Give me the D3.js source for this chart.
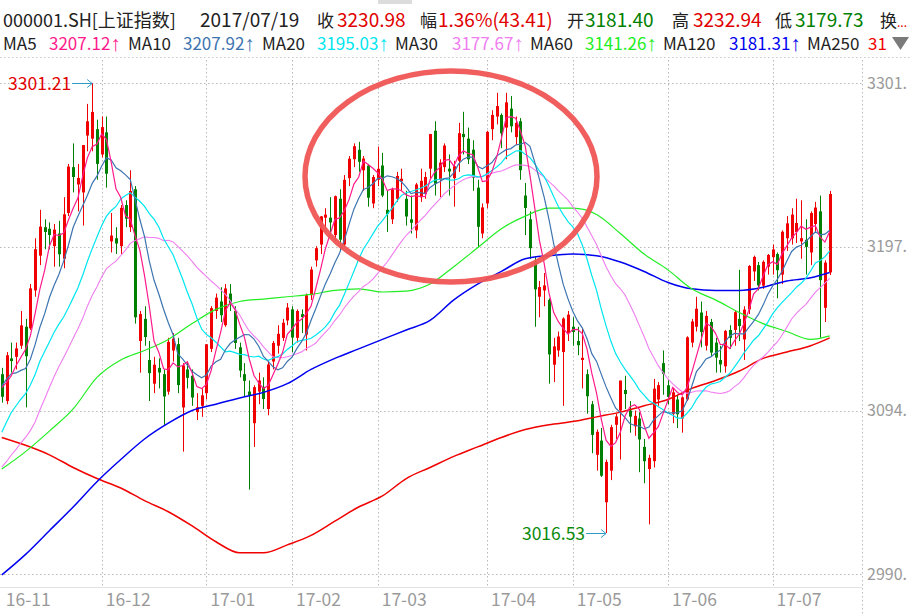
<!DOCTYPE html>
<html><head><meta charset="utf-8">
<script src="https://cdn.jsdelivr.net/npm/d3@7"></script>
<style>
html,body{margin:0;padding:0;background:#fff;}
svg{display:block;}
text{font-family:"Microsoft YaHei","Noto Sans CJK SC","Noto Sans",sans-serif;}
</style></head><body>
<svg id="chart" width="910" height="615"></svg>
<script>
// ---------------- DATA ----------------
const monthDays = {
  "2016-11":[2,3,4,7,8,9,10,11,14,15,16,17,18,21,22,23,24,25,28,29,30],
  "2016-12":[1,2,5,6,7,8,9,12,13,14,15,16,19,20,21,22,23,26,27,28,29,30],
  "2017-01":[3,4,5,6,9,10,11,12,13,16,17,18,19,20,23,24,25,26],
  "2017-02":[3,6,7,8,9,10,13,14,15,16,17,20,21,22,23,24,27,28],
  "2017-03":[1,2,3,6,7,8,9,10,13,14,15,16,17,20,21,22,23,24,27,28,29,30,31],
  "2017-04":[5,6,7,10,11,12,13,14,17,18,19,20,21,24,25,26,27,28],
  "2017-05":[2,3,4,5,8,9,10,11,12,15,16,17,18,19,22,23,24,25,26,31],
  "2017-06":[1,2,5,6,7,8,9,12,13,14,15,16,19,20,21,22,23,26,27,28,29,30],
  "2017-07":[3,4,5,6,7,10,11,12,13,14,17,18,19]
};
const dates = Object.entries(monthDays).flatMap(([m, ds]) => ds.map(d => m + "-" + String(d).padStart(2, "0")));

const opens = [3117,3100,3127,3128,3135,3147,3146,3170,3192,3210,3209,3198,3206,3190,3219,3248,3237,3232,3268,3266,3272,
3256,3270,3201,3203,3198,3224,3210,3234,3138,3152,3126,3111,3121,3117,3106,3132,3136,3096,3120,3116,3093,3097,
3105,3133,3157,3163,3148,3168,3157,3134,3117,3106,3086,3106,3109,3095,3125,3135,3140,3151,
3158,3140,3155,3142,3167,3189,3199,3216,3216,3205,3228,3199,3241,3253,3259,3246,3249,3225,
3240,3249,3221,3215,3228,3239,3228,3215,3208,3229,3231,3247,3271,3240,3248,3247,3241,3252,3269,3266,3259,3235,3206,
3225,3272,3280,3281,3273,3285,3267,3277,3230,3215,3188,3166,3170,3164,3123,3132,3131,3143,
3147,3138,3126,3117,3098,3066,3075,3036,3056,3085,3094,3107,3094,3084,3089,3071,3057,3062,3101,3124,
3110,3092,3101,3089,3101,3137,3147,3156,3135,3150,3137,3126,3122,3145,3145,3152,3139,3158,3182,3186,3173,3185,
3191,3193,3180,3203,3203,3207,3201,3202,3194,3212,3220,3159,3181.40];
const highs = [3121,3131,3137,3137,3157,3152,3174,3203,3221,3215,3213,3212,3214,3229,3250,3263,3250,3262,3288,3301.21,3278,
3280,3280,3219,3210,3224,3227,3246,3236,3157,3160,3138,3128,3127,3120,3140,3143,3140,3124,3125,3120,3105,3108,
3136,3160,3168,3172,3174,3174,3160,3137,3124,3113,3110,3118,3115,3125,3138,3148,3152,3162,
3160,3158,3158,3168,3185,3198,3217,3222,3229,3230,3234,3243,3255,3263,3264,3255,3250,3243,
3261,3257,3233,3235,3245,3247,3233,3230,3238,3247,3245,3269,3277,3253,3263,3256,3252,3276,3283,3273,3265,3240,3225,
3271,3284,3295,3282,3295,3293,3280,3279,3238,3220,3191,3176,3181,3165,3140,3144,3153,3157,
3153,3147,3146,3120,3100,3082,3083,3063,3085,3092,3113,3116,3100,3094,3093,3076,3066,3114,3112,3132,
3114,3108,3104,3103,3141,3152,3166,3163,3157,3152,3140,3135,3145,3148,3157,3183,3160,3186,3192,3188,3189,3193,
3199,3194,3208,3217,3222,3228,3227,3215,3220,3226,3230,3189,3232.94];
const lows = [3099,3098,3118,3120,3133,3096,3145,3166,3186,3196,3196,3185,3185,3184,3217,3232,3220,3211,3258,3258,3240,
3254,3235,3194,3193,3193,3210,3207,3149,3118,3135,3100,3105,3108,3085,3104,3125,3105,3068,3108,3097,3088,3090,
3101,3131,3152,3150,3147,3157,3133,3115,3103,3044,3071,3098,3095,3091,3120,3130,3138,3148,
3131,3137,3143,3132,3164,3185,3193,3207,3205,3201,3195,3198,3236,3248,3245,3233,3223,3222,
3236,3229,3207,3212,3226,3233,3211,3206,3203,3226,3228,3241,3230,3229,3245,3230,3223,3245,3256,3250,3233,3197,3203,
3222,3265,3275,3260,3253,3270,3262,3240,3205,3190,3147,3153,3160,3111,3112,3128,3097,3138,
3135,3129,3108,3092,3067,3056,3052,3016.53,3050,3076,3063,3095,3080,3078,3055,3048,3022,3058,3097,3104,
3098,3086,3083,3080,3100,3134,3144,3134,3132,3128,3118,3118,3118,3133,3135,3138,3126,3155,3176,3170,3171,3180,
3180,3165,3174,3195,3199,3200,3190,3180,3186,3207,3140,3150,3179.73];
const closes = [3102.73,3128.94,3125.32,3133.33,3147.89,3128.37,3171.28,3196.04,3210.37,3206.99,3205.06,3208.45,3192.86,3218.15,3248.35,3241.74,3241.14,3261.94,3277.00,3282.92,3250.03,
3273.31,3243.84,3204.71,3199.65,3222.24,3215.37,3232.88,3152.97,3155.04,3140.53,3117.68,3122.98,3118.08,3102.88,3137.43,3139.56,3110.15,3122.57,3114.66,3102.24,3096.10,3103.64,
3135.92,3158.79,3165.41,3154.32,3171.24,3161.67,3136.75,3119.29,3112.76,3103.43,3108.77,3113.01,3101.30,3123.14,3136.77,3142.55,3149.55,3159.17,
3140.17,3156.98,3153.09,3166.98,3183.18,3196.70,3216.84,3217.93,3212.99,3229.62,3202.08,3239.96,3253.33,3261.22,3251.38,3253.43,3228.66,3241.73,
3246.93,3230.03,3218.31,3233.87,3242.41,3240.66,3216.75,3212.76,3237.02,3239.33,3241.76,3268.94,3237.45,3250.81,3261.61,3245.22,3248.55,3269.45,3266.96,3252.95,3241.31,3210.24,3222.51,
3270.30,3281.00,3286.62,3269.39,3288.97,3273.83,3275.96,3246.07,3222.17,3196.71,3170.69,3172.10,3173.15,3129.53,3134.57,3140.85,3152.19,3154.66,
3143.71,3135.35,3127.37,3103.04,3078.61,3080.53,3052.78,3061.50,3083.51,3090.23,3112.96,3104.44,3090.14,3090.63,3075.68,3061.95,3064.08,3107.83,3110.06,3117.18,
3102.62,3105.54,3091.66,3102.36,3140.32,3150.33,3158.40,3143.71,3153.88,3130.67,3127.49,3123.17,3144.37,3140.01,3156.21,3147.45,3157.87,3185.44,3191.20,3173.20,3188.06,3192.43,
3195.91,3182.80,3207.13,3212.44,3217.96,3212.63,3203.04,3197.54,3218.92,3222.42,3176.49,3187.57,3230.98];
// closes of the 29 sessions before 2016-11-02 (for the short moving averages)
const priorCloses = [3023.5,3002.9,3026.1,3023.0,3025.9,3042.3,3033.9,2980.4,2998.2,2987.9,2998.5,3004.7,
3048.1,3065.3,3058.5,3061.3,3063.8,3041.2,3083.9,3084.7,3084.5,3090.9,3128.2,3131.9,3116.3,3112.4,3104.3,3100.5,3122.4];

// long moving averages, every 5th session (+ last)
const maSampleIdx = d3.range(0, 171, 5).concat([174]);
const ma60Values  = [3057,3068,3081,3095,3115,3126,3132,3139,3149,3158,3163,3164.5,3166,3167.5,3170,3171,3169,3169.5,3174,3185,3197,3209,3217,3222,3222,3218,3206,3193,3183,3171,3164,3156,3149,3144,3139,3141.26];
const ma120Values = [2990,3003,3018,3033,3049,3063,3076,3086,3094,3098,3102,3105.5,3111,3120,3127,3133,3139,3145,3151,3164,3174,3182,3190,3192,3193,3192,3188,3182,3175,3171,3170,3170,3172,3176,3178,3181.31];
const ma250Values = [3077,3072,3066,3058,3051,3045,3037,3030,3021,3011,3004,3004,3009,3015,3024,3033,3040,3051,3058,3065,3071,3077,3082,3085,3087,3090,3093,3097,3101,3108,3113,3119,3127,3131,3135,3140];

const yTicks = [3301.21, 3197.61, 3094.01, 2990.41];
const yTickLabels = ["3301.", "3197.", "3094.", "2990."];   // as visible at the right edge
const monthStarts = ["2016-11-02","2016-12-01","2017-01-03","2017-02-03","2017-03-01","2017-04-05","2017-05-02","2017-06-01","2017-07-03"];
const monthLabels = ["16-11","16-12","17-01","17-02","17-03","17-04","17-05","17-06","17-07"];

const headerRow1 = [
  {t:"000001.SH[上证指数]", x:3, c:"#222", s:18},
  {t:"2017/07/19", x:200, c:"#222", s:19},
  {t:"收", x:317, c:"#222", s:17}, {t:"3230.98", x:337, c:"#e00000", s:19},
  {t:"幅", x:420, c:"#222", s:17}, {t:"1.36%(43.41)", x:438, c:"#e00000", s:19},
  {t:"开", x:567, c:"#222", s:17}, {t:"3181.40", x:585, c:"#008000", s:19},
  {t:"高", x:672, c:"#222", s:17}, {t:"3232.94", x:693, c:"#e00000", s:19},
  {t:"低", x:775, c:"#222", s:17}, {t:"3179.73", x:795, c:"#008000", s:19},
  {t:"换", x:880, c:"#222", s:17}
];
const maNames  = ["MA5","MA10","MA20","MA30","MA60","MA120","MA250"];
const maHeader = ["3207.12","3207.92","3195.03","3177.67","3141.26","3181.31","31"];
const maArrow  = ["↑","↑","↑","↑","↑","↑",""];
const maColors = ["#ff1a8c","#3d74b0","#00e6f0","#f07ef0","#22ee22","#0000f0","#f00000"];
const maNameX  = [3,128,262,395,530,663,807];
const maValX   = [49,183,317,452,585,729,868];

// ---------------- CHART ----------------
const svg = d3.select("#chart");
const PR = 862, PT = 60, PB = 587;
const x = d3.scalePoint().domain(dates).range([1.8, 829.7]);
const y = d3.scaleLinear().domain([2990.41, 3301.21]).range([574.3, 83]);

svg.append("defs").append("clipPath").attr("id","clip")
  .append("rect").attr("x",0).attr("y",PT).attr("width",PR).attr("height",PB-PT);

// remnant of the row above
svg.append("rect").attr("x",378).attr("y",0).attr("width",34).attr("height",4).attr("fill","#dcdcdc");

// header row 1
svg.append("g").selectAll("text").data(headerRow1).join("text")
  .attr("x",d=>d.x).attr("y",27).attr("font-size",d=>d.s).attr("fill",d=>d.c).text(d=>d.t);
svg.append("text").attr("x",897).attr("y",27).attr("font-size",12).attr("fill","#e00000").text("...");

// header row 2
const h2 = svg.append("g");
maNames.forEach((n,i)=>{
  h2.append("text").attr("x",maNameX[i]).attr("y",50).attr("font-size",17).attr("fill","#222").text(n);
  const t = h2.append("text").attr("x",maValX[i]).attr("y",50).attr("font-size",17).attr("fill",maColors[i]);
  t.append("tspan").text(maHeader[i]);
  if (maArrow[i]) t.append("tspan").attr("font-family","'Liberation Sans',Arial,sans-serif")
      .attr("font-size",21).attr("dy",0.5).text(maArrow[i]);
});
h2.append("path").attr("d","M892,37L909,37L900.5,50Z").attr("fill","#7a7a7a");

// separators / frame
const dotted = "1.5,2.5";
svg.append("line").attr("x1",0).attr("x2",910).attr("y1",57.5).attr("y2",57.5)
  .attr("stroke","#c8c8c8").attr("stroke-dasharray",dotted);
svg.append("line").attr("x1",0).attr("x2",PR).attr("y1",PB+0.5).attr("y2",PB+0.5).attr("stroke","#e2e2e2");
svg.append("line").attr("x1",PR+0.5).attr("x2",PR+0.5).attr("y1",PT).attr("y2",615)
  .attr("stroke","#b8b8b8").attr("stroke-dasharray",dotted);

// grid
const grid = svg.append("g");
yTicks.forEach(v=>{
  const yy = Math.round(y(v))+0.5;
  grid.append("line").attr("x1",0).attr("x2",PR).attr("y1",yy).attr("y2",yy)
    .attr("stroke","#b8b8b8").attr("stroke-dasharray",dotted);
});
monthStarts.slice(1).forEach(d=>{
  const xx = Math.round(x(d))+0.5;
  grid.append("line").attr("x1",xx).attr("x2",xx).attr("y1",PT).attr("y2",PB)
    .attr("stroke","#b8b8b8").attr("stroke-dasharray",dotted);
});

// right axis
const yLabelOf = new Map(yTicks.map((v,i)=>[v,yTickLabels[i]]));
const yAxis = d3.axisRight(y).tickValues(yTicks).tickSize(0).tickPadding(5).tickFormat(d=>yLabelOf.get(d));
const ya = svg.append("g").attr("transform",`translate(${PR},0)`).call(yAxis);
ya.select(".domain").remove();
ya.attr("font-family",null).attr("font-size",16);
ya.selectAll("text").attr("fill","#9a9a9a");

// bottom axis
const labelOf = new Map(monthStarts.map((d,i)=>[d,monthLabels[i]]));
const xAxis = d3.axisBottom(x).tickValues(monthStarts).tickSize(0).tickPadding(0).tickFormat(d=>labelOf.get(d));
const xa = svg.append("g").attr("transform",`translate(0,${PB})`).call(xAxis);
xa.select(".domain").remove();
xa.attr("font-family",null).attr("font-size",17.5);
xa.selectAll("text").attr("fill","#9a9a9a").attr("text-anchor","start").attr("dx",3.5).attr("y",7);

// candles
const data = dates.map((d,i)=>({d,o:opens[i],h:highs[i],l:lows[i],c:closes[i]}));
const cg = svg.append("g").attr("clip-path","url(#clip)");
const col = d => d.c >= d.o ? "#f00000" : "#008000";
const cx = d => Math.round(x(d.d));
cg.selectAll("line.wick").data(data).join("line").attr("class","wick")
  .attr("x1",d=>cx(d)+0.5).attr("x2",d=>cx(d)+0.5)
  .attr("y1",d=>y(d.h)).attr("y2",d=>y(d.l)).attr("stroke",col).attr("stroke-width",1);
cg.selectAll("rect.body").data(data).join("rect").attr("class","body")
  .attr("x",d=>cx(d)-1).attr("width",3)
  .attr("y",d=>y(Math.max(d.o,d.c)))
  .attr("height",d=>Math.max(1, y(Math.min(d.o,d.c))-y(Math.max(d.o,d.c))))
  .attr("fill",col);

// moving averages
const allCloses = priorCloses.concat(closes);
const movingAvg = n => closes.map((_,i)=>{
  const end = i + priorCloses.length + 1;
  return d3.mean(allCloses.slice(end-n, end));
});
const lg = svg.append("g").attr("clip-path","url(#clip)");
const lineDaily = d3.line().x((v,i)=>x(dates[i])).y(v=>y(v));
const lineSampled = d3.line().x((v,i)=>x(dates[maSampleIdx[i]])).y(v=>y(v)).curve(d3.curveMonotoneX);
const series = [
  {v:ma250Values, s:true, c:maColors[6], w:1.5},
  {v:ma120Values, s:true, c:maColors[5], w:1.5},
  {v:ma60Values,  s:true, c:maColors[4], w:1.2},
  {v:movingAvg(30), s:false, c:maColors[3], w:1.1},
  {v:movingAvg(20), s:false, c:maColors[2], w:1.2},
  {v:movingAvg(10), s:false, c:maColors[1], w:1.2},
  {v:movingAvg(5),  s:false, c:maColors[0], w:1.2}
];
series.forEach(s=>{
  lg.append("path").attr("d",(s.s?lineSampled:lineDaily)(s.v))
    .attr("fill","none").attr("stroke",s.c).attr("stroke-width",s.w);
});

// high / low markers
const ann = svg.append("g");
const hiI = highs.indexOf(d3.max(highs)), loI = lows.indexOf(d3.min(lows));
function marker(i, v, color){
  const px = x(dates[i]), py = Math.round(y(v))+0.5;
  ann.append("path").attr("d",`M${px-20},${py}L${px},${py}M${px-5},${py-4}L${px},${py}L${px-5},${py+4}`)
    .attr("fill","none").attr("stroke","#2f9bc4").attr("stroke-width",1);
  ann.append("text").attr("x",px-21).attr("y",py+6.5).attr("text-anchor","end")
    .attr("font-size",17.5).attr("fill",color).text(v.toFixed(2));
}
marker(hiI, highs[hiI], "#e00000");
marker(loI, lows[loI], "#0a8a0a");

// highlight ellipse
svg.append("ellipse").attr("cx",451).attr("cy",176.5).attr("rx",146).attr("ry",105.5)
  .attr("fill","none").attr("stroke","#f05555").attr("stroke-width",5.5).attr("opacity",0.95);
</script>
</body></html>
